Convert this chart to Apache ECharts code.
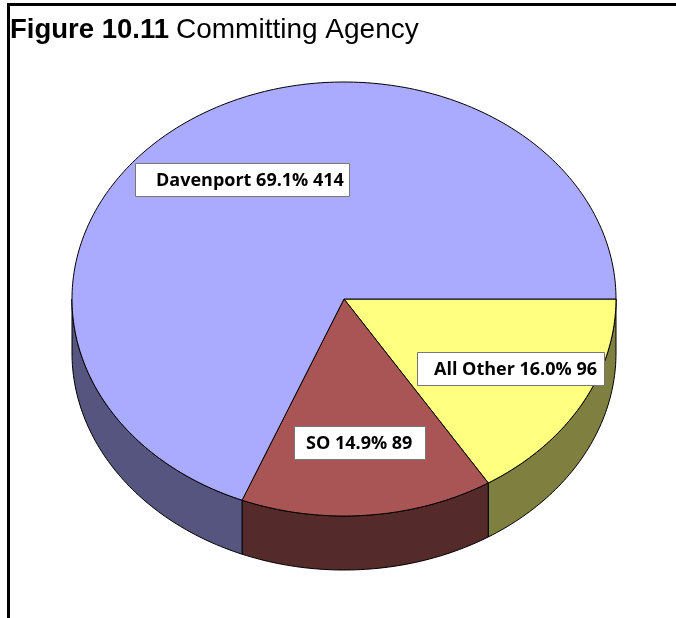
<!DOCTYPE html>
<html>
<head>
<meta charset="utf-8">
<title>Committing Agency</title>
<script src="https://cdn.jsdelivr.net/npm/echarts@6/dist/echarts.min.js"></script>
<style>
    html, body { margin: 0; padding: 0; background: #fff; }
    #chart { width: 676px; height: 618px; }
</style>
</head>
<body>
<div id="chart"></div>
<script>
/* ===== 数据 ===== */
const agencies = ["All Other", "SO", "Davenport"];
const counts = [96, 89, 414];
const percents = ["16.0%", "14.9%", "69.1%"];

/* ===== 样式 ===== */
const topColors = ["#FFFF80", "#AA5555", "#AAAAFF"];
const sideColors = ["#7F7F40", "#552A2A", "#55557F"];
const labelBoxes = [
    { x: 417, y: 352, w: 187, h: 33, textX: 434 },
    { x: 294, y: 426, w: 131, h: 33, textX: 306 },
    { x: 135, y: 163, w: 214, h: 33, textX: 156 },
];
const labelFont = "bold 18px 'Open Sans', 'Noto Sans', sans-serif";
const DEPTH = 54 / 217;   // 侧面厚度，单位为 y 轴半径

/* 原图 3D 投影让下半部分的扇区边界略微偏移 */
function projectAngle(deg) {
    return deg + 0.6 * (1 - Math.cos(deg * Math.PI / 180));
}

const total = counts.reduce((a, b) => a + b, 0);
const rows = counts.map((c, i) => {
    const before = counts.slice(0, i).reduce((a, b) => a + b, 0);
    return [i, projectAngle(before / total * 360), projectAngle((before + c) / total * 360)];
});

/* 椭圆弧上的点，角度从 3 点钟方向顺时针 */
function arcPoints(api, from, to, drop) {
    const pts = [];
    const n = Math.max(2, Math.ceil(to - from));
    for (let k = 0; k <= n; k++) {
        const a = (from + (to - from) * k / n) * Math.PI / 180;
        pts.push(api.coord([Math.cos(a), Math.sin(a) + drop]));
    }
    return pts;
}

function renderSide(params, api) {
    const i = api.value(0);
    const from = Math.max(api.value(1), 0);
    const to = Math.min(api.value(2), 180);
    if (to <= from) return null;
    const points = arcPoints(api, from, to, 0).concat(arcPoints(api, from, to, DEPTH).reverse());
    return {
        type: "polygon",
        shape: { points },
        style: { fill: sideColors[i], stroke: "#000", lineWidth: 1, lineJoin: "round" },
    };
}

function renderTop(params, api) {
    const i = api.value(0);
    const points = [api.coord([0, 0])].concat(arcPoints(api, api.value(1), api.value(2), 0));
    return {
        type: "polygon",
        shape: { points },
        style: { fill: topColors[i], stroke: "#000", lineWidth: 1, lineJoin: "round" },
    };
}

const labelGraphics = agencies.flatMap((name, i) => {
    const b = labelBoxes[i];
    return [
        {
            type: "rect",
            z: 10,
            shape: { x: b.x + 0.5, y: b.y + 0.5, width: b.w, height: b.h },
            style: { fill: "#fff", stroke: "#777", lineWidth: 1 },
        },
        {
            type: "text",
            z: 11,
            x: b.textX,
            y: b.y + b.h / 2 + 1,
            style: {
                text: `${name} ${percents[i]} ${counts[i]}`,
                font: labelFont,
                fill: "#000",
                verticalAlign: "middle",
            },
        },
    ];
});

const chart = echarts.init(document.getElementById("chart"), null, { renderer: "canvas" });
chart.setOption({
    animation: false,
    title: {
        left: 10,
        top: 16,
        padding: 0,
        text: "{b|Figure 10.11} {r|Committing Agency}",
        textStyle: {
            rich: {
                b: { fontFamily: "Liberation Sans", fontWeight: "bold", fontSize: 27.5, color: "#000" },
                r: { fontFamily: "Liberation Sans", fontWeight: "normal", fontSize: 28, color: "#000", padding: [0, 0, 0, 2] },
            },
        },
    },
    grid: { left: 72, top: 82, width: 544, height: 434 },
    xAxis: { type: "value", min: -1, max: 1, show: false },
    yAxis: { type: "value", min: -1, max: 1, inverse: true, show: false },
    graphic: [
        { type: "rect", shape: { x: 7, y: 3, width: 669, height: 3 }, style: { fill: "#000" } },
        { type: "rect", shape: { x: 7, y: 3, width: 3, height: 615 }, style: { fill: "#000" } },
        ...labelGraphics,
    ],
    series: [
        {
            type: "custom",
            renderItem: renderSide,
            data: rows,
            encode: { x: 1, y: 2 },
            silent: true,
            z: 2,
        },
        {
            type: "custom",
            renderItem: renderTop,
            data: rows,
            encode: { x: 1, y: 2 },
            silent: true,
            z: 3,
        },
    ],
});
</script>
</body>
</html>
